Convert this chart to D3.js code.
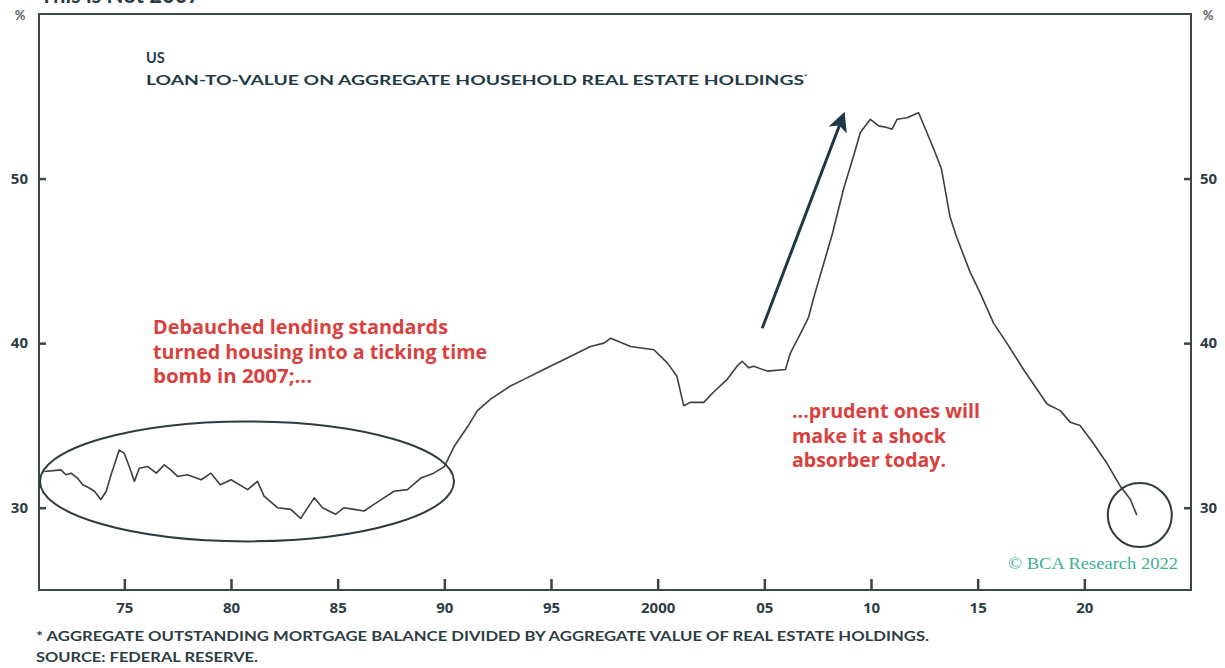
<!DOCTYPE html>
<html>
<head>
<meta charset="utf-8">
<script src="https://cdn.jsdelivr.net/npm/d3@7"></script>
<style>
    html, body { margin: 0; padding: 0; background: #fff; }
    svg { display: block; }
    text { font-family: Lato, "Open Sans", sans-serif; }
</style>
</head>
<body>
<div id="chart"></div>
<script>
// data (decimal year, loan-to-value in %)
var years = [
    1971.25, 1972.03, 1972.26, 1972.5, 1972.8, 1973.05, 1973.36, 1973.6, 1973.9, 1974.15,
    1974.4, 1974.76, 1975.0, 1975.23, 1975.47, 1975.7, 1976.1, 1976.5, 1976.87, 1977.18,
    1977.5, 1977.96, 1978.6, 1979.06, 1979.5, 1980.0, 1980.78, 1981.24, 1981.55, 1982.18,
    1982.8, 1983.27, 1983.9, 1984.29, 1984.9, 1985.3, 1985.77, 1986.24, 1986.7, 1987.17,
    1987.64, 1988.27, 1988.9, 1989.5, 1990.0, 1990.45, 1991.08, 1991.55, 1992.17, 1993.1,
    1993.73, 1994.66, 1995.76, 1996.85, 1997.48, 1997.8, 1998.73, 1999.82, 2000.45, 2000.9,
    2001.22, 2001.53, 2002.16, 2002.6, 2003.26, 2003.72, 2003.96, 2004.27, 2004.5, 2005.13,
    2005.99, 2006.22, 2006.7, 2007.08, 2007.3, 2008.18, 2008.72, 2009.19, 2009.5, 2009.97,
    2010.36, 2010.75, 2010.99, 2011.22, 2011.69, 2012.23, 2012.62, 2013.0, 2013.3, 2013.7,
    2014.0, 2014.65, 2015.1, 2015.75, 2016.37, 2017.15, 2017.78, 2018.25, 2018.87, 2019.34,
    2019.8, 2020.43, 2021.06, 2021.69, 2022.16, 2022.46
];

var ltv = [
    32.2, 32.3, 32.0, 32.1, 31.8, 31.4, 31.2, 31.0, 30.5, 31.0,
    32.1, 33.5, 33.3, 32.5, 31.6, 32.4, 32.5, 32.1, 32.6, 32.3,
    31.9, 32.0, 31.7, 32.1, 31.4, 31.7, 31.1, 31.6, 30.7, 30.0,
    29.9, 29.35, 30.6, 30.0, 29.6, 30.0, 29.9, 29.8, 30.2, 30.6,
    31.0, 31.1, 31.8, 32.1, 32.5, 33.7, 34.9, 35.9, 36.6, 37.4,
    37.8, 38.4, 39.1, 39.8, 40.0, 40.3, 39.8, 39.6, 38.8, 38.0,
    36.2, 36.4, 36.4, 37.0, 37.8, 38.6, 38.9, 38.5, 38.6, 38.3,
    38.4, 39.4, 40.6, 41.6, 42.7, 46.6, 49.4, 51.4, 52.8, 53.6,
    53.2, 53.1, 53.0, 53.6, 53.7, 54.0, 52.8, 51.6, 50.6, 47.7,
    46.5, 44.3, 43.1, 41.2, 40.0, 38.4, 37.2, 36.3, 35.9, 35.2,
    35.0, 33.9, 32.7, 31.3, 30.5, 29.55
];

var xTicks = [1975, 1980, 1985, 1990, 1995, 2000, 2005, 2010, 2015, 2020];
var xTickLabels = ['75', '80', '85', '90', '95', '2000', '05', '10', '15', '20'];
var yTicks = [30, 40, 50];

var chartTitle = 'This is Not 2007';
var panelTitle = ['US', 'LOAN-TO-VALUE ON AGGREGATE HOUSEHOLD REAL ESTATE HOLDINGS'];
var leftNote = ['Debauched lending standards', 'turned housing into a ticking time', 'bomb in 2007;...'];
var rightNote = ['...prudent ones will', 'make it a shock', 'absorber today.'];
var footnotes = [
    '* AGGREGATE OUTSTANDING MORTGAGE BALANCE DIVIDED BY AGGREGATE VALUE OF REAL ESTATE HOLDINGS.',
    'SOURCE: FEDERAL RESERVE.'
];

(function (d3) {
    'use strict';

    var width = 1225,
        height = 668,
        margin = { top: 14, right: 34, bottom: 78, left: 39 };

    var frameColor = '#3c474c',
        inkColor = '#2d3d44',
        redColor = '#d8413d';

    var svg = d3.select('#chart')
        .append('svg')
        .attr('width', width)
        .attr('height', height);

    var x = d3.scaleLinear()
        .domain([1971, 2025])
        .range([margin.left, width - margin.right]);

    var y = d3.scaleLinear()
        .domain([25, 60])
        .range([height - margin.bottom, margin.top]);

    var points = years.map(function (yr, i) {
        return { year: yr, value: ltv[i] };
    });

    // title, cut by the top edge like in the source image
    svg.append('text')
        .attr('x', 40)
        .attr('y', 3)
        .attr('font-size', 22)
        .attr('font-weight', 700)
        .attr('fill', inkColor)
        .text(chartTitle);

    // frame
    svg.append('rect')
        .attr('x', x.range()[0])
        .attr('y', y.range()[1])
        .attr('width', x.range()[1] - x.range()[0])
        .attr('height', y.range()[0] - y.range()[1])
        .attr('fill', 'none')
        .attr('stroke', frameColor)
        .attr('stroke-width', 2);

    // axes
    var xAxis = d3.axisBottom(x)
        .tickValues(xTicks)
        .tickSize(-11)
        .tickFormat(function (d, i) { return xTickLabels[i]; });

    var gx = svg.append('g')
        .attr('transform', 'translate(0,' + y.range()[0] + ')')
        .call(xAxis);

    var yLeft = d3.axisLeft(y).tickValues(yTicks).tickSize(-7).tickPadding(10);
    var yRight = d3.axisRight(y).tickValues(yTicks).tickSize(-7).tickPadding(10);

    var gyl = svg.append('g')
        .attr('transform', 'translate(' + x.range()[0] + ',0)')
        .call(yLeft);

    var gyr = svg.append('g')
        .attr('transform', 'translate(' + x.range()[1] + ',0)')
        .call(yRight);

    [gx, gyl, gyr].forEach(function (g) {
        g.select('.domain').remove();
        g.selectAll('.tick line')
            .attr('stroke', frameColor)
            .attr('stroke-width', 2.5);
        g.selectAll('.tick text')
            .attr('fill', inkColor)
            .attr('font-size', 15)
            .attr('font-weight', 700)
            .style('font-family', '"Open Sans", Lato, sans-serif');
    });

    gx.selectAll('.tick text').attr('dy', '1.35em');
    gyl.selectAll('.tick text').attr('x', -11);
    gyr.selectAll('.tick text').attr('x', 9);

    // "%" unit marks
    svg.append('text')
        .attr('x', 20).attr('y', 20)
        .attr('text-anchor', 'middle')
        .attr('font-size', 13).attr('font-weight', 700)
        .attr('fill', '#5a6468')
        .text('%');

    svg.append('text')
        .attr('x', 1208).attr('y', 20)
        .attr('text-anchor', 'middle')
        .attr('font-size', 13).attr('font-weight', 700)
        .attr('fill', '#5a6468')
        .text('%');

    // panel title
    svg.append('text')
        .attr('x', 146).attr('y', 63)
        .attr('font-size', 14.5).attr('font-weight', 700)
        .attr('fill', '#1f3b45')
        .text(panelTitle[0]);

    var sub = svg.append('text')
        .attr('x', 146).attr('y', 85)
        .attr('font-size', 14).attr('font-weight', 700)
        .attr('fill', '#1f3b45');
    sub.append('tspan')
        .attr('textLength', 658)
        .attr('lengthAdjust', 'spacingAndGlyphs')
        .text(panelTitle[1]);
    sub.append('tspan')
        .attr('dy', -5)
        .attr('font-size', 8)
        .text('*');

    // the series
    var line = d3.line()
        .x(function (d) { return x(d.year); })
        .y(function (d) { return y(d.value); });

    svg.append('path')
        .datum(points)
        .attr('d', line)
        .attr('fill', 'none')
        .attr('stroke', '#3a4044')
        .attr('stroke-width', 1.6)
        .attr('stroke-linejoin', 'round');

    // ellipse round the 70s and 80s, circle round the last point
    svg.append('ellipse')
        .attr('cx', x(1980.75)).attr('cy', y(31.6))
        .attr('rx', 207).attr('ry', 60)
        .attr('fill', 'none')
        .attr('stroke', '#2f3a3f')
        .attr('stroke-width', 2);

    svg.append('circle')
        .attr('cx', x(2022.6)).attr('cy', y(29.55))
        .attr('r', 32)
        .attr('fill', 'none')
        .attr('stroke', '#2f3a3f')
        .attr('stroke-width', 2);

    // arrow
    svg.append('defs').append('marker')
        .attr('id', 'head')
        .attr('viewBox', '0 0 10 10')
        .attr('refX', 5).attr('refY', 5)
        .attr('markerWidth', 6.5).attr('markerHeight', 6.5)
        .attr('orient', 'auto')
        .append('path')
        .attr('d', 'M0,0 L10,5 L0,10 L2.5,5 Z')
        .attr('fill', '#1d3943');

    svg.append('line')
        .attr('x1', x(2004.9)).attr('y1', y(40.9))
        .attr('x2', x(2008.6)).attr('y2', y(53.5))
        .attr('stroke', '#1d3943')
        .attr('stroke-width', 3)
        .attr('marker-end', 'url(#head)');

    // red notes, each line stretched to the width it has in the source
    function note(lines, lengths, x0, y0) {
        lines.forEach(function (s, i) {
            svg.append('text')
                .attr('x', x0)
                .attr('y', y0 + i * 24.5)
                .attr('font-size', 19).attr('font-weight', 700)
                .attr('fill', redColor)
                .attr('textLength', lengths[i])
                .attr('lengthAdjust', 'spacingAndGlyphs')
                .style('font-family', '"Open Sans", Lato, sans-serif')
                .text(s);
        });
    }

    note(leftNote, [295, 334, 159], 153, 334);
    note(rightNote, [188, 154, 154], 792, 418);

    // logo
    svg.append('text')
        .attr('x', 1008).attr('y', 569)
        .attr('font-size', 16)
        .attr('fill', '#3fae97')
        .attr('textLength', 170)
        .attr('lengthAdjust', 'spacingAndGlyphs')
        .style('font-family', '"Liberation Serif", "DejaVu Serif", serif')
        .text('\u00a9 BCA Research 2022');

    // footnotes
    svg.append('text')
        .attr('x', 36).attr('y', 641)
        .attr('font-size', 13).attr('font-weight', 700)
        .attr('fill', inkColor)
        .attr('textLength', 893)
        .attr('lengthAdjust', 'spacingAndGlyphs')
        .text(footnotes[0]);

    svg.append('text')
        .attr('x', 36).attr('y', 662)
        .attr('font-size', 13).attr('font-weight', 700)
        .attr('fill', inkColor)
        .attr('textLength', 222)
        .attr('lengthAdjust', 'spacingAndGlyphs')
        .text(footnotes[1]);

})(d3);
</script>
</body>
</html>
